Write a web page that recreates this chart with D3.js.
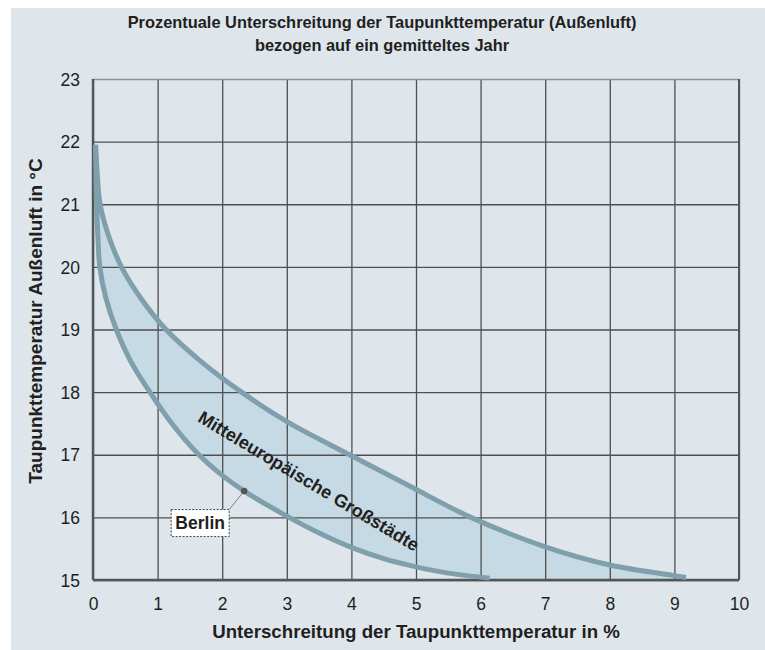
<!DOCTYPE html>
<html>
<head>
<meta charset="utf-8">
<script src="https://cdn.jsdelivr.net/npm/d3@7"></script>
<style>
body { margin: 0; background: #fff; }
svg text { font-family: "Liberation Sans", Arial, sans-serif; fill: #231f20; }
</style>
</head>
<body>
<div class="chart"></div>
<script>
// data
var titleLines = ['Prozentuale Unterschreitung der Taupunkttemperatur (Außenluft)', 'bezogen auf ein gemitteltes Jahr'];
var xTicks = [0, 1, 2, 3, 4, 5, 6, 7, 8, 9, 10];
var yTicks = [15, 16, 17, 18, 19, 20, 21, 22, 23];
var xLabel = 'Unterschreitung der Taupunkttemperatur in %';
var yLabel = 'Taupunkttemperatur Außenluft in °C';

// upper border of the band
var upperX = [0.04, 0.065, 0.11, 0.24, 0.44, 0.74, 1.13, 1.66, 2.3, 3.05, 3.97, 4.9, 5.85, 7.0, 8.0, 9.0, 9.18];
var upperY = [21.95, 21.5, 21.0, 20.5, 20.0, 19.5, 19.0, 18.5, 18.0, 17.5, 17.0, 16.5, 16.0, 15.53, 15.24, 15.07, 15.04];
// lower border (Berlin)
var lowerX = [0.04, 0.045, 0.055, 0.075, 0.105, 0.2, 0.36, 0.58, 0.88, 1.22, 1.62, 2.0, 2.34, 3.0, 3.5, 4.0, 4.5, 5.0, 5.5, 6.14];
var lowerY = [21.95, 21.5, 21.0, 20.5, 20.0, 19.5, 19.0, 18.5, 18.0, 17.5, 17.02, 16.67, 16.42, 16.02, 15.75, 15.52, 15.34, 15.21, 15.11, 15.03];

var bandLabel = 'Mitteleuropäische Großstädte';
var bandLabelAt = [3.34, 16.58];
var berlinLabel = 'Berlin';
var berlinPoint = [2.34, 16.42];

var W = 765, H = 650;
var margin = { top: 79, right: 26, bottom: 70, left: 93 },
    width  = W - margin.left - margin.right,
    height = H - margin.top - margin.bottom;

var x = d3.scaleLinear().domain([0, 10]).range([0, width]);
var y = d3.scaleLinear().domain([15, 23]).range([height, 0]);

var svg = d3.select('.chart')
    .append('svg')
    .attr('width', W)
    .attr('height', H);

// panel background (white strip left and top)
svg.append('rect')
    .attr('x', 11).attr('y', 8)
    .attr('width', W - 11).attr('height', H - 8)
    .attr('fill', '#dee6ec');

svg.selectAll('.title')
    .data(titleLines)
    .enter()
    .append('text')
    .attr('class', 'title')
    .attr('x', 382)
    .attr('y', function(d, i){ return 28 + i * 23; })
    .attr('text-anchor', 'middle')
    .attr('font-size', '16.4px')
    .attr('font-weight', 'bold')
    .text(function(d){ return d; });

var g = svg.append('g')
    .attr('transform', 'translate(' + margin.left + ',' + margin.top + ')');

var upper = upperX.map(function(v, i){ return [v, upperY[i]]; });
var lower = lowerX.map(function(v, i){ return [v, lowerY[i]]; });

var line = d3.line()
    .x(function(d){ return x(d[0]); })
    .y(function(d){ return y(d[1]); })
    .curve(d3.curveCatmullRom.alpha(0.5));

// shaded band: upper curve, down to the axis, back along the lower curve
g.append('path')
    .attr('d', line(upper) + 'L' + x(upperX[upperX.length - 1]) + ',' + y(15) +
               'L' + x(lowerX[lowerX.length - 1]) + ',' + y(15) +
               line(lower.slice().reverse()).replace(/^M/, 'L') + 'Z')
    .attr('fill', '#c5dae4');

// grid
var xAxis = d3.axisBottom(x).tickValues(xTicks).tickSize(-height).tickSizeOuter(0);
var yAxis = d3.axisLeft(y).tickValues(yTicks).tickSize(-width).tickSizeOuter(0).tickPadding(13);

var gx = g.append('g')
    .attr('transform', 'translate(0,' + height + ')')
    .call(xAxis);
var gy = g.append('g').call(yAxis);

[gx, gy].forEach(function(a){
    a.select('.domain').remove();
    a.selectAll('line').attr('stroke', '#4f4f4f').attr('stroke-width', 1.3);
    a.selectAll('text')
        .attr('font-size', '17.5px')
        .attr('fill', '#231f20')
        .style('font-family', '"Liberation Sans", Arial, sans-serif');
});
gx.selectAll('text').attr('y', 30).attr('dy', 0);
gy.selectAll('text').attr('dy', '0.35em');
// top grid line is lighter
gy.selectAll('.tick').filter(function(d){ return d === 23; }).select('line')
    .attr('stroke', '#8c9196').attr('stroke-width', 1.6);

// frame
g.append('line').attr('x1', 0).attr('x2', 0).attr('y1', 0).attr('y2', height)
    .attr('stroke', '#555').attr('stroke-width', 2.4);
g.append('line').attr('x1', 0).attr('x2', width).attr('y1', height).attr('y2', height)
    .attr('stroke', '#555').attr('stroke-width', 2.4);
g.append('line').attr('x1', width).attr('x2', width).attr('y1', 0).attr('y2', height)
    .attr('stroke', '#555').attr('stroke-width', 2);

// curves
[upper, lower].forEach(function(c){
    g.append('path')
        .attr('d', line(c))
        .attr('fill', 'none')
        .attr('stroke', '#7f9fac')
        .attr('stroke-width', 5);
});

g.append('text')
    .attr('transform', 'translate(' + x(bandLabelAt[0]) + ',' + y(bandLabelAt[1]) + ') rotate(31)')
    .attr('text-anchor', 'middle')
    .attr('dy', '0.35em')
    .attr('font-size', '18px')
    .attr('font-weight', 'bold')
    .text(bandLabel);

// Berlin marker
var bx = x(berlinPoint[0]), by = y(berlinPoint[1]);
var boxW = 58, boxH = 27, boxCx = bx - 44, boxCy = by + 32;
g.append('line')
    .attr('x1', boxCx + boxW / 2).attr('y1', boxCy - boxH / 2)
    .attr('x2', bx).attr('y2', by)
    .attr('stroke', '#666').attr('stroke-width', 0.8);
g.append('rect')
    .attr('x', boxCx - boxW / 2).attr('y', boxCy - boxH / 2)
    .attr('width', boxW).attr('height', boxH)
    .attr('fill', '#fff')
    .attr('stroke', '#444').attr('stroke-width', 1)
    .attr('stroke-dasharray', '2,1.5');
g.append('text')
    .attr('x', boxCx).attr('y', boxCy)
    .attr('dy', '0.36em')
    .attr('text-anchor', 'middle')
    .attr('font-size', '17.5px')
    .attr('font-weight', 'bold')
    .text(berlinLabel);
g.append('circle')
    .attr('cx', bx).attr('cy', by).attr('r', 3.2)
    .attr('fill', '#555');

// axis titles
svg.append('text')
    .attr('x', margin.left + width / 2)
    .attr('y', 638)
    .attr('text-anchor', 'middle')
    .attr('font-size', '18.7px')
    .attr('font-weight', 'bold')
    .text(xLabel);

svg.append('text')
    .attr('transform', 'translate(42,321) rotate(-90)')
    .attr('text-anchor', 'middle')
    .attr('font-size', '19px')
    .attr('font-weight', 'bold')
    .text(yLabel);
</script>
</body>
</html>
